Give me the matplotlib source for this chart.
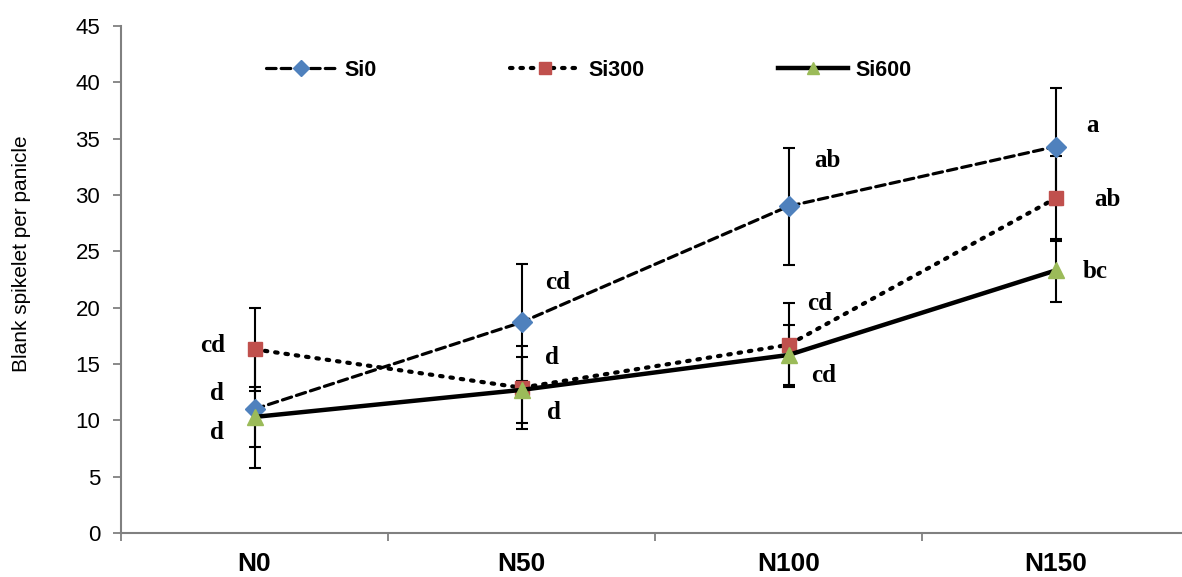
import matplotlib
matplotlib.use("Agg")
import matplotlib.pyplot as plt
import numpy as np

categories = ["N0", "N50", "N100", "N150"]
series_names = ["Si0", "Si300", "Si600"]
si0 = [11.0, 18.7, 29.0, 34.3]
si300 = [16.3, 12.9, 16.7, 29.7]
si600 = [10.3, 12.7, 15.8, 23.3]
si0_err = [5.2, 5.2, 5.2, 5.2]
si300_err = [3.7, 3.7, 3.7, 3.8]
si600_err = [2.7, 2.9, 2.7, 2.8]
yticks = [0, 5, 10, 15, 20, 25, 30, 35, 40, 45]

# significance letters: (text, x in data, y in data)
letters = [
    ("cd", -0.155, 16.6), ("d", -0.141, 12.4), ("d", -0.141, 8.9),
    ("cd", 1.137, 22.2), ("d", 1.114, 15.6), ("d", 1.122, 10.7),
    ("ab", 2.144, 33.1), ("cd", 2.118, 20.4), ("cd", 2.133, 14.0),
    ("a", 3.14, 36.2), ("ab", 3.193, 29.6), ("bc", 3.148, 23.2),
]

W, H = 1182, 577
fig = plt.figure(figsize=(W / 100, H / 100), dpi=100)
ax = fig.add_axes([121 / W, (H - 533) / H, 1068 / W, 507 / H])

x = np.arange(len(categories))
styles = [
    dict(y=si0, e=si0_err, ls=(0, (3, 1.6)), lw=2.3, marker="D", color="#4F81BD", ms=10.5),
    dict(y=si300, e=si300_err, ls=(0, (0.6, 1.9)), lw=3.0, marker="s", color="#C0504D", ms=10.5),
    dict(y=si600, e=si600_err, ls="-", lw=3.2, marker="^", color="#9BBB59", ms=11),
]
handles = []
for name, s in zip(series_names, styles):
    ax.errorbar(x, s["y"], yerr=s["e"], fmt="none", ecolor="black", elinewidth=1.5,
                capsize=4.5, capthick=1.5, zorder=2)
    (h,) = ax.plot(x, s["y"], linestyle=s["ls"], lw=s["lw"], color="black",
                   marker=s["marker"], markerfacecolor=s["color"], markeredgecolor=s["color"],
                   markersize=s["ms"], label=name, zorder=3, dash_capstyle="round")
    handles.append(h)

for t, tx, ty in letters:
    ax.text(tx, ty, t, ha="center", va="center", fontsize=18, fontweight="bold",
            family="Liberation Serif")

ax.set_xlim(-0.5, 3.5)
ax.set_ylim(0, 45)
ax.set_yticks(yticks)
ax.set_yticklabels([str(v) for v in yticks], fontsize=16, family="Liberation Sans")
ax.set_xticks(x)
ax.set_xticklabels(categories, fontsize=19, fontweight="bold", family="Liberation Sans")
ax.set_xticks(np.arange(-0.5, 4.0, 1.0), minor=True)
ax.tick_params(axis="x", which="major", length=0, pad=14)
ax.tick_params(axis="x", which="minor", length=6, width=1.3, color="#808080")
ax.tick_params(axis="y", length=6, width=1.3, color="#808080", pad=9)
for sp in ["top", "right"]:
    ax.spines[sp].set_visible(False)
for sp in ["left", "bottom"]:
    ax.spines[sp].set_color("#808080")
    ax.spines[sp].set_linewidth(1.5)

fig.text(22 / W, 1 - 254 / H, "Blank spikelet per panicle", rotation=90, ha="center",
         va="center", fontsize=15, family="Liberation Sans")

leg = ax.legend(handles=handles, loc="center left", bbox_to_anchor=((247 - 121) / 1068, (533 - 70) / 507),
                ncol=3, frameon=False, handlelength=3.25, handletextpad=0.37, columnspacing=6.2,
                prop=dict(family="Liberation Sans", weight="bold", size=15.5), markerscale=0.78)

fig.savefig("out.png", dpi=100)
